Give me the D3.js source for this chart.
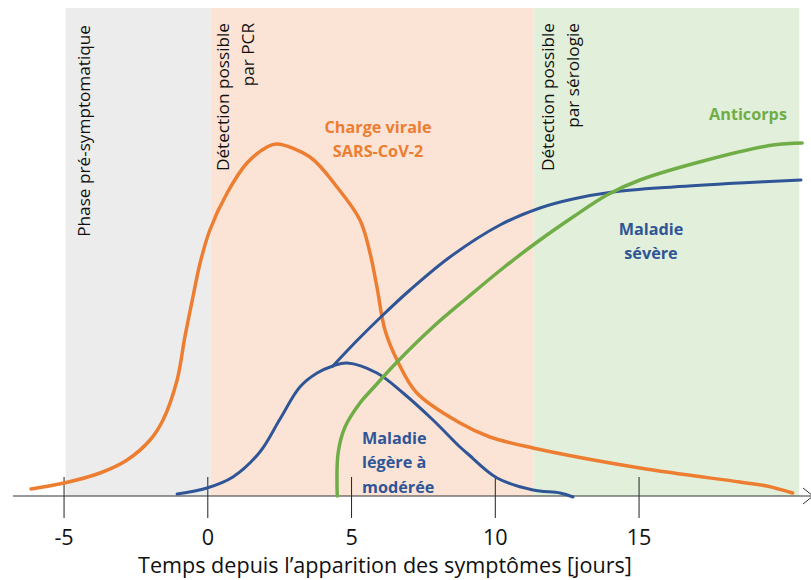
<!DOCTYPE html>
<html><head><meta charset="utf-8">
<script src="https://cdn.jsdelivr.net/npm/d3@7"></script>
<style>
html,body{margin:0;padding:0;background:#fff;}
svg{display:block;}
text{font-family:"Open Sans",Lato,sans-serif;}
</style></head>
<body>
<svg id="chart" width="811" height="580"></svg>
<script>
// ---- data ----
const xTicks = [-5, 0, 5, 10, 15];
const phaseNames = ["pre", "pcr", "sero"];
const phaseStart = [-4.93, 0.12, 11.34];
const phaseEnd = [0.12, 11.34, 20.59];
const phaseLabels = [["Phase pré-symptomatique"], ["Détection possible", "par PCR"], ["Détection possible", "par sérologie"]];

const viralDays = [-6.13, -4.98, -3.73, -2.79, -1.99, -1.54, -1.05, -0.78, -0.50, -0.25, 0.09, 0.69, 1.38, 2.08, 2.42, 3.57, 4.51, 5.31, 5.66, 5.90, 6.18, 6.60, 7.29, 8.79, 9.83, 11.33, 15.05, 18.52, 19.46, 20.36];
const viralLoad = [1.75, 3.25, 5.75, 9, 14, 19, 29, 39.75, 49.75, 58.25, 66.5, 75.75, 83.25, 87.25, 88, 84.75, 77.25, 69, 60.75, 52.25, 41.5, 34, 25.75, 18.25, 14.75, 12, 7, 3.5, 2.5, 0.75];

const mildDays = [-1.05, -0.01, 0.89, 1.83, 2.53, 3.22, 3.82, 4.37, 4.86, 5.90, 6.81, 7.85, 8.79, 9.03, 10.08, 11.33, 12.27, 12.72];
const mildLevel = [0.5, 2, 4.75, 11, 19.25, 27.25, 30.75, 32.5, 33.25, 30.75, 25.75, 19, 12.25, 10.75, 4.5, 1.5, 0.75, -0.25];

const severeDays = [4.37, 5.2, 6.11, 7.05, 8.44, 10.18, 11.57, 12.72, 14.11, 16.2, 18.52, 20.65];
const severeLevel = [32.5, 38.8, 45.25, 51.5, 59.75, 67.75, 72, 74.25, 76, 77.25, 78.25, 79];

const antibodyDays = [4.52, 4.55, 4.79, 5.31, 5.77, 6.60, 7.85, 9.03, 10.29, 11.57, 12.72, 13.90, 15.05, 17.38, 19.68, 20.69];
const antibodyLevel = [0, 10.75, 17.25, 23.25, 27, 33.5, 42.25, 49.5, 57, 64, 69.75, 75.25, 79, 84, 87.75, 88.25];

// ---- styles ----
const ORANGE = "#ED7D31", BLUE = "#2F5597", GREEN = "#70AD47";
const phaseFill = {pre: "#ECECEC", pcr: "#FBE4D6", sero: "#E2EFDA"};

const svg = d3.select("#chart");
const x = d3.scaleLinear().domain([-5, 15]).range([63.55, 638.55]);
const y = d3.scaleLinear().domain([0, 122]).range([496, 8]);

// font size that makes a sample string span a target width
function fitSize(str, target, weight) {
  const t = svg.append("text").attr("font-size", 100).attr("font-weight", weight || "normal").text(str);
  const len = t.node().getComputedTextLength();
  t.remove();
  return 100 * target / len;
}
const vSize = fitSize("Phase pré-symptomatique", 212);
const axisSize = fitSize("Temps depuis l’apparition des symptômes [jours]", 494);
const boldSize = fitSize("Charge virale", 107, "bold");

// phases
const phases = phaseNames.map((n, i) => ({n, s: phaseStart[i], e: phaseEnd[i], lab: phaseLabels[i]}));
svg.append("g").selectAll("rect").data(phases).join("rect")
  .attr("x", d => x(d.s)).attr("width", d => x(d.e) - x(d.s))
  .attr("y", y(122)).attr("height", y(0) - y(122))
  .attr("fill", d => phaseFill[d.n]);

// phase labels (vertical)
const labG = svg.append("g");
phases.forEach((p, i) => {
  const cx = [83, 222, 547][i];
  p.lab.forEach((t, j) => {
    labG.append("text")
      .attr("transform", `translate(${cx + j * 25},${[25, 23, 23][i]}) rotate(-90)`)
      .attr("text-anchor", "end").attr("dominant-baseline", "central")
      .attr("font-size", vSize).attr("fill", "#111").text(t);
  });
});

// axis
const axis = d3.axisBottom(x).tickValues(xTicks).tickSize(22).tickFormat(d => String(d));
const ag = svg.append("g").attr("transform", `translate(0,${y(0)})`).call(axis);
ag.select(".domain").remove();
ag.selectAll(".tick line").attr("y1", -19).attr("y2", 22).attr("stroke", "#222").attr("stroke-width", 1);
ag.selectAll(".tick text").attr("y", 41).attr("dy", "0.35em")
  .attr("font-size", axisSize).attr("font-family", "Open Sans").attr("fill", "#111");
svg.append("line").attr("x1", 13).attr("x2", 813).attr("y1", y(0)).attr("y2", y(0))
  .attr("stroke", "#333").attr("stroke-width", 1);
svg.append("path").attr("d", `M803,${y(0) - 8}L813,${y(0)}L803,${y(0) + 8}`)
  .attr("fill", "none").attr("stroke", "#333").attr("stroke-width", 1);

svg.append("text").attr("x", 385).attr("y", 565).attr("dy", "0.35em")
  .attr("text-anchor", "middle").attr("font-size", axisSize).attr("fill", "#111")
  .text("Temps depuis l’apparition des symptômes [jours]");

// curves
const line = d3.line().x(d => x(d[0])).y(d => y(d[1])).curve(d3.curveCatmullRom.alpha(0.5));
const series = [
  {days: viralDays, vals: viralLoad, c: ORANGE, w: 3.5},
  {days: mildDays, vals: mildLevel, c: BLUE, w: 3},
  {days: severeDays, vals: severeLevel, c: BLUE, w: 3},
  {days: antibodyDays, vals: antibodyLevel, c: GREEN, w: 3.5}
];
series.forEach(s => {
  svg.append("path").datum(s.days.map((d, i) => [d, s.vals[i]]))
    .attr("d", line).attr("fill", "none").attr("stroke", s.c)
    .attr("stroke-width", s.w).attr("stroke-linecap", "round").attr("stroke-linejoin", "round");
});

// curve labels
function label(lines, px, py, color, anchor) {
  lines.forEach((t, i) => {
    svg.append("text").attr("x", px).attr("y", py + i * 24.5).attr("dy", "0.35em")
      .attr("text-anchor", anchor).attr("font-weight", "bold").attr("font-size", boldSize)
      .attr("fill", color).text(t);
  });
}
label(["Charge virale", "SARS-CoV-2"], 378, 127, ORANGE, "middle");
label(["Anticorps"], 748, 114, GREEN, "middle");
label(["Maladie", "sévère"], 651, 229, BLUE, "middle");
label(["Maladie", "légère à", "modérée"], 362, 438, BLUE, "start");
</script>
</body></html>
